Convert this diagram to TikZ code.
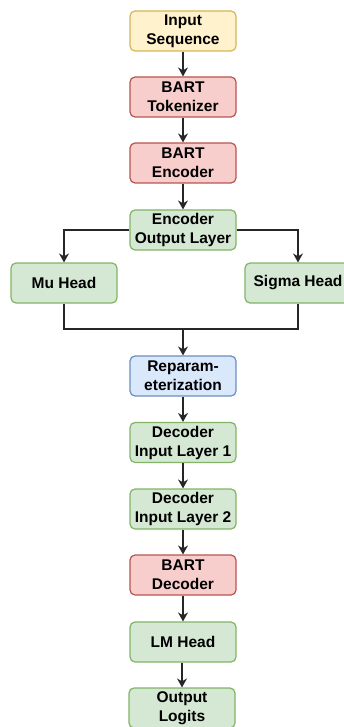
\documentclass[tikz,border=0pt]{standalone}
\usepackage{fontspec}
\setmainfont{Liberation Sans}
\usetikzlibrary{arrows.meta}
\definecolor{yfill}{HTML}{FFF2CC}\definecolor{ydraw}{HTML}{D6B656}
\definecolor{rfill}{HTML}{F8CECC}\definecolor{rdraw}{HTML}{B85450}
\definecolor{gfill}{HTML}{D5E8D4}\definecolor{gdraw}{HTML}{82B366}
\definecolor{bfill}{HTML}{DAE8FC}\definecolor{bdraw}{HTML}{6C8EBF}
\tikzset{
  box/.style={rounded corners=5pt, line width=1.2pt, minimum width=106pt, minimum height=40pt,
    align=center, inner sep=1pt, font=\fontsize{15.5}{19}\selectfont\bfseries},
  ybox/.style={box, fill=yfill, draw=ydraw},
  rbox/.style={box, fill=rfill, draw=rdraw},
  gbox/.style={box, fill=gfill, draw=gdraw},
  bbox/.style={box, fill=bfill, draw=bdraw},
  conn/.style={line width=1.3pt, draw=black!85},
  arr/.style={conn, -{Stealth[length=9pt,width=10pt,inset=3pt]}}
}
\begin{document}
\begin{tikzpicture}[x=1pt,y=-1pt]
\useasboundingbox (0,0) rectangle (343,727);
\node[ybox] (in) at (183,31) {Input\\Sequence};
\node[rbox] (tok) at (183,97) {BART\\Tokenizer};
\node[rbox] (enc) at (183,163) {BART\\Encoder};
\node[gbox] (eo) at (183,230) {Encoder\\Output Layer};
\node[gbox] (mu) at (64,283) {Mu Head};
\node[gbox] (sig) at (298,283) {Sigma Head};
\coordinate (join) at (183,329);
\node[bbox] (rep) at (183,376) {Reparam-\\eterization};
\node[gbox] (d1) at (183,442.5) {Decoder\\Input Layer 1};
\node[gbox] (d2) at (183,509) {Decoder\\Input Layer 2};
\node[rbox] (bd) at (183,575) {BART\\Decoder};
\node[gbox] (lm) at (183,642) {LM Head};
\node[gbox] (out) at (182,708) {Output\\Logits};
\draw[arr] (in) -- (tok);
\draw[arr] (tok) -- (enc);
\draw[arr] (enc) -- (eo);
\draw[arr] (eo.west) -| (mu.north);
\draw[arr] (eo.east) -| (sig.north);
\draw[conn] (mu.south) |- (join);
\draw[conn] (sig.south) |- (join);
\draw[arr] (join) -- (rep.north);
\draw[arr] (rep) -- (d1);
\draw[arr] (d1) -- (d2);
\draw[arr] (d2) -- (bd);
\draw[arr] (bd) -- (lm);
\draw[arr] (lm.south -| out.north) -- (out.north);
\end{tikzpicture}
\end{document}
